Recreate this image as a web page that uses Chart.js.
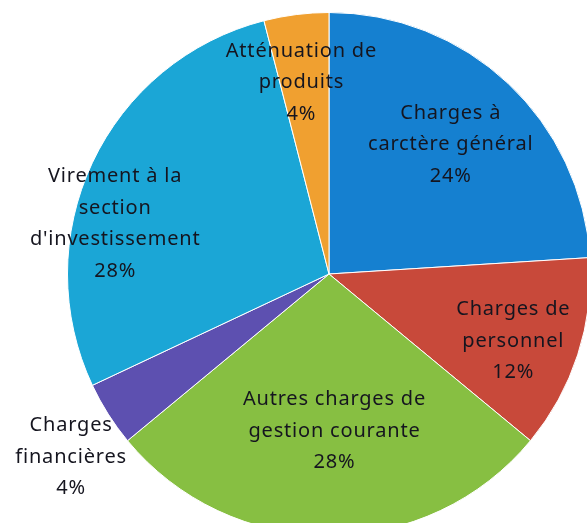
<!DOCTYPE html>
<html>
<head>
<meta charset="utf-8">
<script src="https://cdn.jsdelivr.net/npm/chart.js@4"></script>
<style>
  html, body { margin: 0; padding: 0; background: #fff; overflow: hidden; }
  #wrap { position: absolute; left: 0; top: 0; width: 600px; height: 540px; }
</style>
</head>
<body>
<div id="wrap"><canvas id="pie"></canvas></div>
<script>
// categories, clockwise from 12 o'clock
var labels = [
    ['Charges à', 'carctère général'],
    ['Charges de', 'personnel'],
    ['Autres charges de', 'gestion courante'],
    ['Charges', 'financières'],
    ['Virement à la', 'section', "d'investissement"],
    ['Atténuation de', 'produits']
];
var percents = [24, 12, 28, 4, 28, 4];
var colors = ['#1580d0', '#c8493a', '#87bf42', '#5d50b0', '#1ba6d6', '#f0a030'];

// where each label sits: fraction of the radius, and a small angle shift (deg)
var labelRadius = [0.68, 0.75, 0.60, 1.21, 0.84, 0.74];
var labelShift = [0, 2, -2, -3, -12, -1];

var pieLabels = {
    id: 'pieLabels',
    afterDatasetsDraw: function(chart) {
        var ctx = chart.ctx;
        var arcs = chart.getDatasetMeta(0).data;
        ctx.save();
        ctx.font = '20px "Noto Sans"';
        ctx.letterSpacing = '0.8px';
        ctx.fillStyle = '#15151f';
        ctx.textAlign = 'center';
        ctx.textBaseline = 'middle';
        arcs.forEach(function(arc, i) {
            var p = arc.getProps(['x', 'y', 'startAngle', 'endAngle', 'outerRadius'], true);
            var mid = (p.startAngle + p.endAngle) / 2 + labelShift[i] * Math.PI / 180;
            var r = p.outerRadius * labelRadius[i];
            var cx = p.x + Math.cos(mid) * r;
            var cy = p.y + Math.sin(mid) * r;
            var lines = labels[i].concat([percents[i] + '%']);
            var lh = 31.5;
            var top = cy - (lines.length - 1) * lh / 2;
            lines.forEach(function(t, k) {
                ctx.fillText(t, cx, top + k * lh);
            });
        });
        ctx.restore();
    }
};

new Chart(document.getElementById('pie'), {
    type: 'pie',
    data: {
        labels: labels.map(function(l) { return l.join(' '); }),
        datasets: [{
            data: percents,
            backgroundColor: colors,
            borderColor: '#ffffff',
            borderWidth: 1
        }]
    },
    options: {
        responsive: true,
        maintainAspectRatio: false,
        animation: false,
        layout: { padding: { left: 65, top: 12, right: 7, bottom: 4 } },
        plugins: {
            legend: { display: false },
            tooltip: { enabled: false }
        }
    },
    plugins: [pieLabels]
});
</script>
</body>
</html>
